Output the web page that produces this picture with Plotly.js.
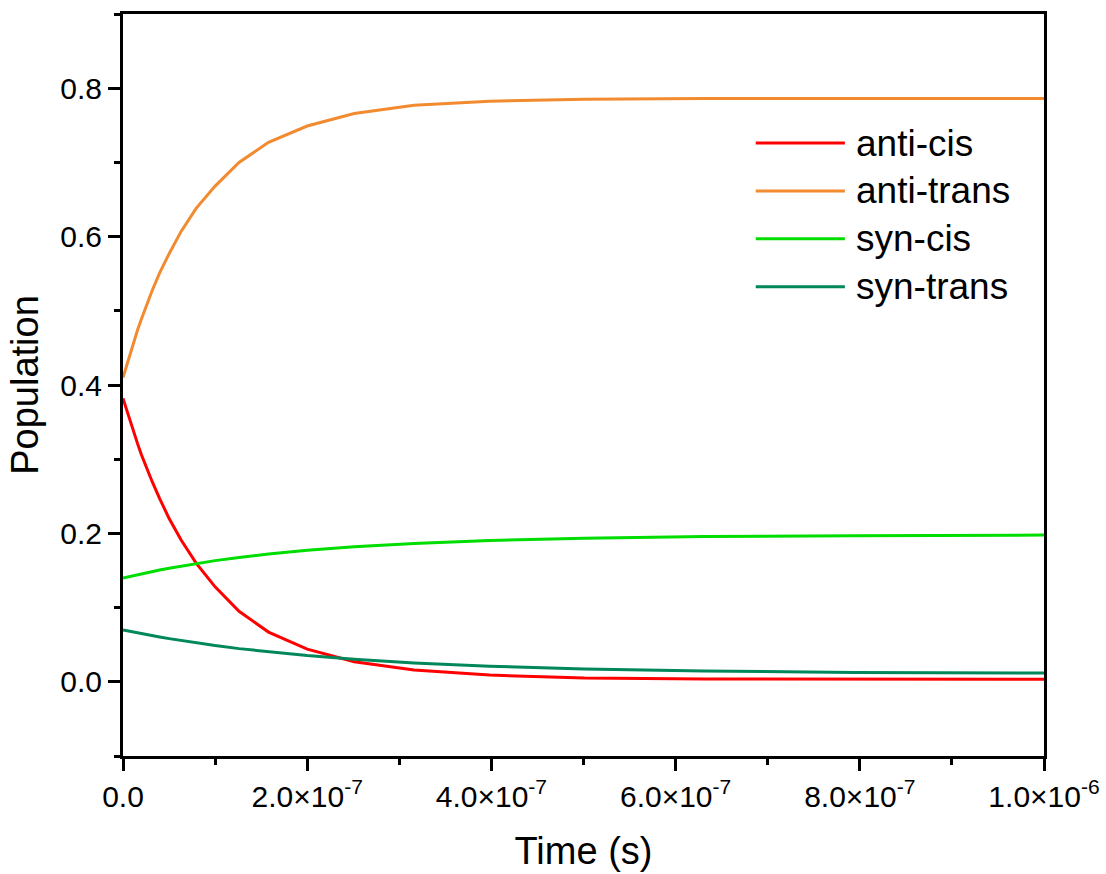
<!DOCTYPE html>
<html>
<head>
<meta charset="utf-8">
<script src="https://cdn.plot.ly/plotly-3.0.1.min.js"></script>
<style>
  html, body { margin: 0; padding: 0; background: #fff; }
  #chart { width: 1106px; height: 874px; }
</style>
</head>
<body>
<div id="chart"></div>
<script>
// Time grid (s): t = 0 followed by a log-spaced grid, 10 points per decade
const time = [0, 1.0e-8, 1.26e-8, 1.58e-8, 2.0e-8, 2.51e-8, 3.16e-8, 3.98e-8, 5.01e-8, 6.31e-8, 7.94e-8,
  1.0e-7, 1.26e-7, 1.58e-7, 2.0e-7, 2.51e-7, 3.16e-7, 3.98e-7, 5.01e-7, 6.31e-7, 7.94e-7, 1.0e-6];

// Conformer populations
const antiCis   = [0.382, 0.342, 0.332, 0.321, 0.306, 0.290, 0.270, 0.247, 0.220, 0.191, 0.160,
  0.128, 0.095, 0.067, 0.044, 0.027, 0.016, 0.009, 0.005, 0.0038, 0.0035, 0.0035];
const antiTrans = [0.410, 0.452, 0.462, 0.474, 0.489, 0.506, 0.527, 0.551, 0.577, 0.607, 0.638,
  0.668, 0.700, 0.727, 0.749, 0.766, 0.777, 0.7825, 0.785, 0.786, 0.786, 0.786];
const synCis    = [0.140, 0.1429, 0.1436, 0.1445, 0.1457, 0.1470, 0.1487, 0.1507, 0.1531, 0.1560, 0.1594,
  0.1633, 0.1676, 0.1722, 0.1772, 0.1820, 0.1865, 0.1905, 0.1936, 0.1957, 0.1970, 0.1977];
const synTrans  = [0.070, 0.0674, 0.0668, 0.0660, 0.0650, 0.0638, 0.0623, 0.0604, 0.0582, 0.0556, 0.0525,
  0.0488, 0.0447, 0.0402, 0.0353, 0.0303, 0.0255, 0.0211, 0.0174, 0.0146, 0.0127, 0.0117];

const seriesNames  = ['anti-cis', 'anti-trans', 'syn-cis', 'syn-trans'];
const seriesColors = ['#ff0000', '#f28a30', '#00dd00', '#00875a'];
const seriesValues = [antiCis, antiTrans, synCis, synTrans];

// Axis ticks
const xTickVals = [0, 2e-7, 4e-7, 6e-7, 8e-7, 1e-6];
const xTickText = ['0.0', '2.0×10<sup>-7</sup>', '4.0×10<sup>-7</sup>', '6.0×10<sup>-7</sup>',
  '8.0×10<sup>-7</sup>', '1.0×10<sup>-6</sup>'];
const yTickVals = [0, 0.2, 0.4, 0.6, 0.8];
const yTickText = ['0.0', '0.2', '0.4', '0.6', '0.8'];

const FONT = 'Liberation Sans, Arial, sans-serif';

const traces = seriesValues.map((vals, i) => ({
  x: time,
  y: vals,
  type: 'scatter',
  mode: 'lines',
  name: seriesNames[i],
  line: { color: seriesColors[i], width: 3 },
  showlegend: false
}));

// Legend drawn as line samples + labels in paper coordinates
const legendTop = 0.826, legendStep = 0.0645;
const shapes = [];
const annotations = [];
seriesNames.forEach((name, i) => {
  const yy = legendTop - i * legendStep;
  shapes.push({
    type: 'line', xref: 'paper', yref: 'paper',
    x0: 0.687, x1: 0.7838, y0: yy, y1: yy,
    line: { color: seriesColors[i], width: 3 }
  });
  annotations.push({
    xref: 'paper', yref: 'paper', x: 0.7935, y: yy,
    xanchor: 'left', yanchor: 'middle', showarrow: false,
    text: name, font: { family: FONT, size: 37, color: '#000' }
  });
});

const axisCommon = {
  showline: true, linecolor: '#000', linewidth: 3, mirror: true,
  showgrid: false, zeroline: false,
  ticks: 'outside', ticklen: 12, tickwidth: 3, tickcolor: '#000',
  tickfont: { family: FONT, size: 30, color: '#000' },
  automargin: false
};

const layout = {
  width: 1106, height: 874,
  paper_bgcolor: '#fff', plot_bgcolor: '#fff',
  margin: { l: 123, r: 62, t: 14, b: 118 },
  showlegend: false,
  xaxis: Object.assign({}, axisCommon, {
    range: [0, 1e-6],
    tickmode: 'array', tickvals: xTickVals, ticktext: xTickText,
    minor: { tickmode: 'linear', tick0: 0, dtick: 1e-7, ticks: 'outside', ticklen: 6, tickwidth: 3, tickcolor: '#000' },
    title: { text: 'Time (s)', font: { family: FONT, size: 38, color: '#000' }, standoff: 26 }
  }),
  yaxis: Object.assign({}, axisCommon, {
    range: [-0.1, 0.9],
    tickmode: 'array', tickvals: yTickVals, ticktext: yTickText,
    minor: { tickmode: 'linear', tick0: 0, dtick: 0.1, ticks: 'outside', ticklen: 6, tickwidth: 3, tickcolor: '#000' },
    title: { text: 'Population', font: { family: FONT, size: 38, color: '#000' }, standoff: 10 }
  }),
  shapes: shapes,
  annotations: annotations
};

Plotly.newPlot('chart', traces, layout, { displayModeBar: false, staticPlot: true });
</script>
</body>
</html>
